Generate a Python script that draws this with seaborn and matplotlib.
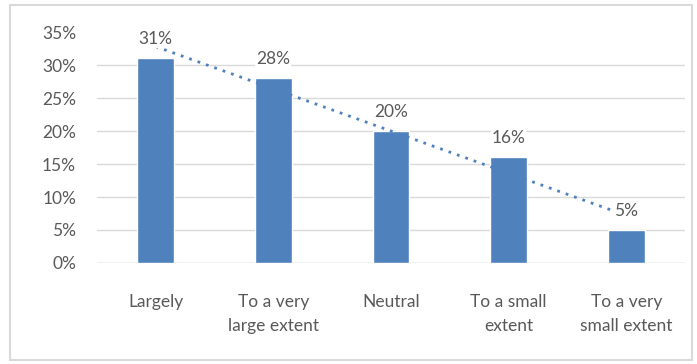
import numpy as np
import pandas as pd
import matplotlib
matplotlib.use("Agg")
import matplotlib.pyplot as plt
from matplotlib.patches import Rectangle
import seaborn as sns

categories = ["Largely", "To a very\nlarge extent", "Neutral", "To a small\nextent", "To a very\nsmall extent"]
shares = [31, 28, 20, 16, 5]
y_ticks = [0, 5, 10, 15, 20, 25, 30, 35]

sns.set_style("white")
plt.rcParams["font.family"] = ["Lato", "DejaVu Sans"]

df = pd.DataFrame({"category": categories, "share": shares})

fig = plt.figure(figsize=(6.97, 3.64), dpi=100)
ax = fig.add_axes([0.139, 0.2775, 0.844, 0.6345])

bar_color = "#4F81BD"
text_color = "#595959"

sns.barplot(data=df, x="category", y="share", color=bar_color, width=0.31,
            saturation=1, ax=ax, zorder=2)

# linear trend over the category positions
xs = np.arange(len(shares))
slope, intercept = np.polyfit(xs, shares, 1)
ax.plot(xs, slope * xs + intercept, linestyle=(0, (1, 2.2)), color=bar_color,
        linewidth=2.0, zorder=3)

for x, v in zip(xs, shares):
    ax.annotate(f"{v}%", (x, v), xytext=(0, 8), textcoords="offset points",
                ha="center", va="bottom", fontsize=12.5, color=text_color,
                bbox=dict(boxstyle="square,pad=0.05", fc="white", ec="none"),
                zorder=4)

ax.set_ylim(0, 35)
ax.set_xlim(-0.5, len(shares) - 0.5)
ax.set_yticks(y_ticks)
ax.set_yticklabels([f"{t}%" for t in y_ticks])
ax.yaxis.grid(True, color="#D9D9D9", linewidth=1)
ax.get_ygridlines()[-1].set_visible(False)
ax.set_axisbelow(True)
for s in ax.spines.values():
    s.set_visible(False)
ax.axhline(0, color="#D9D9D9", linewidth=1, zorder=1)
ax.tick_params(axis="y", length=0, pad=15, labelsize=12.5, labelcolor=text_color)
ax.tick_params(axis="x", length=0, pad=22, labelsize=12.5, labelcolor=text_color)
for lbl in ax.get_xticklabels():
    lbl.set_linespacing(1.65)
ax.set_xlabel("")
ax.set_ylabel("")

fig.patches.append(Rectangle((10 / 697, 4 / 364), 682 / 697, 355 / 364,
                             transform=fig.transFigure, fill=False,
                             edgecolor="#D9D9D9", linewidth=1.5))

fig.savefig("out.png", dpi=100)
